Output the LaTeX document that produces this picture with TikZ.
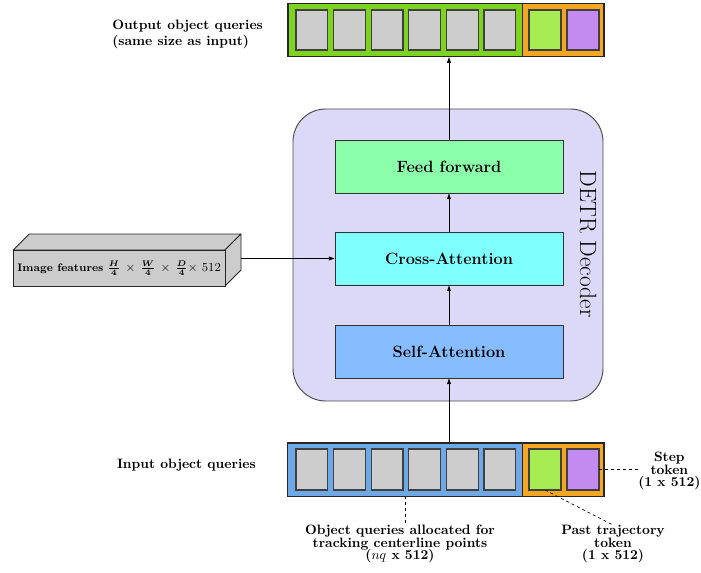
\documentclass[tikz,border=0pt]{standalone}
\usepackage{bm}
\usetikzlibrary{arrows.meta}
\definecolor{decfill}{HTML}{DCD8F8}
\definecolor{ffgreen}{HTML}{8CFFAA}
\definecolor{crosscyan}{HTML}{80FFFF}
\definecolor{selfblue}{HTML}{85BDFF}
\definecolor{barblue}{HTML}{6FA8E6}
\definecolor{bargreen}{HTML}{7ED321}
\definecolor{barorange}{HTML}{F5A623}
\definecolor{cellgreen}{HTML}{A7EC52}
\definecolor{cellpurple}{HTML}{C38BF0}
\definecolor{cellgray}{HTML}{CDCDCD}
\definecolor{boxgray}{HTML}{CCCCCC}
\newcommand\pxbox[7]{\node[#6, inner sep=0pt, outer sep=0pt,
  minimum width={((#4)-(#2))*0.735pt}, minimum height={((#5)-(#3))*0.735pt}]
  (#1) at ({((#2)+(#4))/2},{((#3)+(#5))/2}) {#7};}
\tikzset{
  x=0.735pt, y=-0.735pt,
  arr/.style={-{Latex[length=4.5pt,width=3.2pt]}, line width=0.5pt},
  dashline/.style={dashed, dash pattern=on 2.2pt off 2.2pt, line width=0.5pt},
  lbl/.style={font=\bfseries, align=center, inner sep=0pt},
  barbox/.style={draw=black!85, line width=0.8pt, rectangle},
  cellbox/.style={draw=black!75, line width=0.9pt, rectangle},
  layerbox/.style={draw=black!80, line width=0.6pt, rectangle, font=\large\bfseries},
}
\begin{document}
\begin{tikzpicture}
\useasboundingbox (0,0) rectangle (701,573);
% decoder container
\pxbox{dec}{293}{109}{603}{401}{draw=black!70, line width=0.7pt, fill=decfill, rounded corners=24pt}{}
\node[rotate=-90, font=\LARGE, inner sep=0pt] (dectext) at (588,244) {DETR Decoder};
% layers
\pxbox{ff}{335}{140}{563}{193}{layerbox, fill=ffgreen}{Feed forward}
\pxbox{cross}{335}{232}{563}{285}{layerbox, fill=crosscyan}{Cross-Attention}
\pxbox{self}{335}{325}{563}{378}{layerbox, fill=selfblue}{Self-Attention}
% output bar
\pxbox{outq}{288}{3.3}{522.7}{56.7}{barbox, fill=bargreen}{}
\pxbox{outt}{522.7}{3.3}{604}{56.7}{barbox, fill=barorange}{}
\foreach \i in {0,...,5}{
  \pxbox{oc\i}{296+37.6*\i}{10}{327.8+37.6*\i}{50}{cellbox, fill=cellgray}{}
}
\pxbox{ocg}{529}{10}{561}{50}{cellbox, fill=cellgreen}{}
\pxbox{ocp}{567}{10}{599}{50}{cellbox, fill=cellpurple}{}
% input bar
\pxbox{inq}{287.5}{443}{522.7}{496.5}{barbox, fill=barblue}{}
\pxbox{int}{522.7}{443}{604}{496.5}{barbox, fill=barorange}{}
\foreach \i in {0,...,5}{
  \pxbox{ic\i}{296+37.6*\i}{449}{327.8+37.6*\i}{490}{cellbox, fill=cellgray}{}
}
\pxbox{icg}{529}{449}{561}{490}{cellbox, fill=cellgreen}{}
\pxbox{icp}{567}{449}{599}{490}{cellbox, fill=cellpurple}{}
% labels
\node[lbl, align=left, anchor=west] (outlbl) at (112,34.5) {Output object queries\\(same size as input)};
\node[lbl, anchor=east] (inlbl) at (256,465) {Input object queries};
\node[lbl, anchor=north] (oqlbl) at (400,525) {Object queries allocated for\\[-1mm]tracking centerline points\\[-1mm]\textbf{(}$nq$ x 512)};
\node[lbl, anchor=north] (ptlbl) at (613,525) {Past trajectory\\[-1mm]token\\[-1mm](1 x 512)};
\node[lbl, anchor=west] (steplbl) at (638,471) {Step\\[-1mm]token\\[-1mm](1 x 512)};
% image features box
\fill[boxgray, draw=black!85, line width=0.6pt, line join=round] (13.3,250) -- (29.3,234) -- (241,234) -- (225,250) -- cycle;
\fill[boxgray, draw=black!85, line width=0.6pt, line join=round] (225,250) -- (241,234) -- (241,270) -- (225,286) -- cycle;
\pxbox{img}{13.3}{250}{225}{286}{draw=black!85, line width=0.6pt, fill=boxgray, font=\footnotesize}{\textbf{Image features} {\small$\bm{\frac{H}{4}}\,\times\,\bm{\frac{W}{4}}\,\times\,\bm{\frac{D}{4}}$$\times$ 512}}
\coordinate (imgout) at (241,258.5);
% connectors
\draw[arr] (imgout) -- (cross.west);
\draw[arr] (inq.north -| self.south) -- (self.south);
\draw[arr] (self.north) -- (cross.south);
\draw[arr] (cross.north) -- (ff.south);
\draw[arr] (ff.north) -- (ff.north |- outq.south);
\draw[dashline] (inq.south) -- (inq.south |- oqlbl.north);
\draw[dashline] (icg.south) -- (ptlbl.north);
\draw[dashline] (icp.east) -- (icp.east -| steplbl.west);
\end{tikzpicture}
\end{document}
